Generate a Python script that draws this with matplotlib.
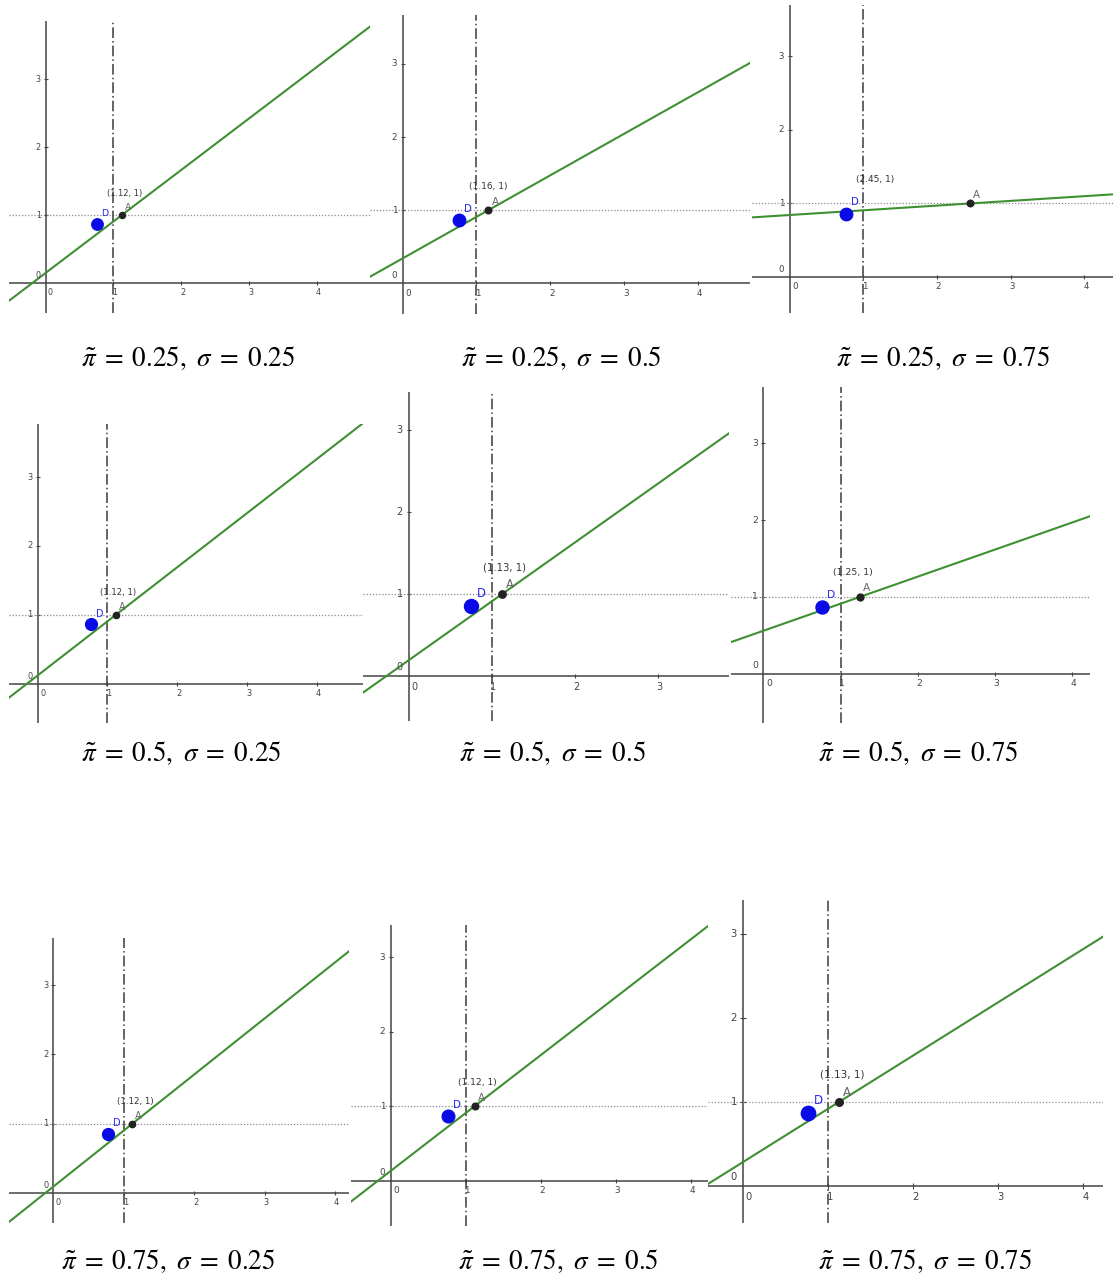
import numpy as np
import matplotlib.pyplot as plt

plt.rcParams['mathtext.fontset'] = 'stix'

# parameter grid shown under each panel
pi_vals = [0.25, 0.25, 0.25, 0.5, 0.5, 0.5, 0.75, 0.75, 0.75]
sigma_vals = [0.25, 0.5, 0.75, 0.25, 0.5, 0.75, 0.25, 0.5, 0.75]

# point A = (a_x, 1), green line through A and (0, intercept)
a_x = [1.12, 1.16, 2.45, 1.12, 1.13, 1.25, 1.12, 1.12, 1.13]
intercepts = [0.15, 0.34, 0.843, 0.12, 0.19, 0.56, 0.095, 0.13, 0.284]

# blue point D
d_x = [0.75, 0.76, 0.76, 0.77, 0.755, 0.756, 0.77, 0.76, 0.76]
d_y = [0.87, 0.86, 0.86, 0.86, 0.85, 0.87, 0.85, 0.86, 0.865]

x_ticks = [0, 1, 2, 3, 4]
y_ticks = [0, 1, 2, 3]

W, H = 1118, 1277
fig = plt.figure(figsize=(W / 100, H / 100), dpi=100)

# panel boxes in pixels (left, right, top, bottom) and the visible window
boxes = [
    (9, 370, 21, 313, -0.54, 4.78, -0.44, 3.86),
    (370, 750, 15, 314, -0.44, 4.70, -0.42, 3.67),
    (752, 1113, 5, 313, -0.51, 4.39, -0.49, 3.70),
    (9, 363, 424, 723, -0.41, 4.66, -0.57, 3.77),
    (363, 729, 392, 721, -0.55, 3.86, -0.55, 3.46),
    (731, 1090, 387, 723, -0.42, 4.23, -0.64, 3.73),
    (9, 349, 938, 1223, -0.63, 4.20, -0.43, 3.68),
    (351, 708, 925, 1226, -0.53, 4.23, -0.61, 3.43),
    (708, 1103, 900, 1223, -0.41, 4.23, -0.44, 3.40),
]
caption_xy = [(188, 358), (561, 358), (943, 358),
              (181, 753), (553, 753), (918, 753),
              (168, 1261), (558, 1261), (925, 1261)]

for i, (L, R, T, B, x0, x1, y0, y1) in enumerate(boxes):
    ax = fig.add_axes([L / W, 1 - B / H, (R - L) / W, (B - T) / H])
    ax.set_xlim(x0, x1)
    ax.set_ylim(y0, y1)
    ax.axis('off')
    unit = (R - L) / (x1 - x0)   # pixels per data unit
    s = unit / 70.0
    pt = 1 / 1.389               # px -> points

    # axes through the origin
    ax.axhline(0, color='#444444', lw=1.1)
    ax.axvline(0, color='#444444', lw=1.1)
    for t in x_ticks:
        if t > x1 - 0.1:
            continue
        if t > 0:
            ax.plot(t, 0, marker='|', color='#444444', ms=3 * s, mew=0.8)
        ax.annotate(str(t), (t, 0), xytext=((5 if t == 0 else 1.5) * s * pt, -5 * s * pt),
                    textcoords='offset points', ha='center', va='top',
                    fontsize=0.085 * unit, color='#444444')
    for t in y_ticks:
        if t > y1 - 0.1:
            continue
        if t > 0:
            ax.plot(0, t, marker='_', color='#444444', ms=3 * s, mew=0.8)
            ax.annotate(str(t), (0, t), xytext=(-5 * s * pt, 0),
                        textcoords='offset points', ha='right', va='center',
                        fontsize=0.085 * unit, color='#444444')
        else:
            ax.annotate(str(t), (0, t), xytext=(-5 * s * pt, 3 * s * pt),
                        textcoords='offset points', ha='right', va='bottom',
                        fontsize=0.085 * unit, color='#444444')

    # reference lines x = 1 and y = 1
    ax.axhline(1, color='#8a8a8a', lw=0.9, ls=(0, (1, 1.5)))
    ax.axvline(1, color='#3a3a3a', lw=1.1, ls=(0, (7, 2, 1, 2)))

    # green line through (0, b) and A
    a = a_x[i]
    b = intercepts[i]
    xs = np.array([x0, x1])
    ax.plot(xs, b + (1 - b) / a * xs, color='#3f8f33', lw=1.5)

    # points
    ax.plot(a, 1, 'o', color='#222222', ms=4.5 * s)
    ax.annotate('A', (a, 1), xytext=(3 * s * pt, 5 * s * pt), textcoords='offset points',
                fontsize=0.1 * unit, color='#666666')
    ax.plot(d_x[i], d_y[i], 'o', color='#0a0ae6', ms=8.5 * s)
    ax.annotate('D', (d_x[i], d_y[i]), xytext=(5 * s * pt, 8 * s * pt), textcoords='offset points',
                fontsize=0.1 * unit, color='#2a2af0')
    ax.annotate(f'({a:.2f}, 1)', (1, 1), xytext=(-0.1 * unit * pt, 0.32 * unit * pt),
                textcoords='offset points', ha='left', va='center',
                fontsize=0.088 * unit, color='#333333')

    cx, cy = caption_xy[i]
    fig.text(cx / W, 1 - cy / H,
             rf'$\tilde{{\pi}}\;=\;{pi_vals[i]:g},\ \sigma\;=\;{sigma_vals[i]:g}$',
             ha='center', va='center', fontsize=19.5)

fig.savefig('out.png', dpi=100)
